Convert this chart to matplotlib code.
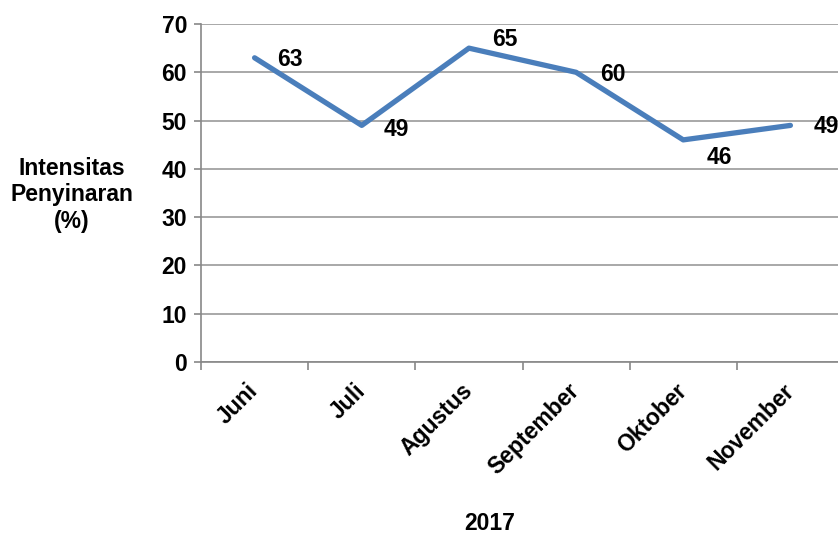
import numpy as np
import matplotlib.pyplot as plt

months = ['Juni', 'Juli', 'Agustus', 'September', 'Oktober', 'November']
intensitas = [63, 49, 65, 60, 46, 49]
label_offsets = [(16, -1), (16, -3), (17, 6.5), (17, -1.5), (17, -13), (17, -1)]

plt.rcParams['font.family'] = ['Liberation Sans', 'DejaVu Sans']
plt.rcParams['font.weight'] = 'bold'
FS = 16.5

fig = plt.figure(figsize=(8.38, 5.37), dpi=100)
ax = fig.add_axes([201 / 838, 1 - 362 / 537, 643 / 838, 338 / 537])

x = np.arange(len(months))
ax.plot(x, intensitas, color='#4A7EBB', lw=3.8, solid_capstyle='round', zorder=3)
for xi, v, (dx, dy) in zip(x, intensitas, label_offsets):
    ax.annotate(str(v), (xi, v), xytext=(dx, dy), textcoords='offset points',
                ha='left', va='center', fontsize=FS, fontweight='bold')

ax.set_xlim(-0.5, len(months) - 0.5)
ax.set_ylim(0, 70)
ax.set_yticks(range(0, 71, 10))
ax.set_xticks(x)
ax.set_xticklabels(months, rotation=45, ha='right', va='center',
                   rotation_mode='anchor', fontsize=FS, fontweight='bold')
ax.set_xticks(np.arange(-0.5, len(months)), minor=True)
ax.tick_params(axis='x', which='major', length=0, pad=18)
ax.tick_params(axis='x', which='minor', length=6, color='#888888', width=1.2)
ax.tick_params(axis='y', length=5, color='#888888', width=1.2, labelsize=FS, pad=5)
for lab in ax.get_yticklabels():
    lab.set_fontweight('bold')

ax.grid(axis='y', color='#999999', lw=1.2)
ax.set_axisbelow(True)
for s in ['top', 'right']:
    ax.spines[s].set_visible(False)
for s in ['left', 'bottom']:
    ax.spines[s].set_color('#888888')
    ax.spines[s].set_linewidth(1.2)

fig.text(72 / 838, 1 - 195 / 537, 'Intensitas\nPenyinaran\n(%)', ha='center', va='center',
         fontsize=FS, fontweight='bold', linespacing=1.2)
fig.text(490 / 838, 1 - 524 / 537, '2017', ha='center', va='center',
         fontsize=FS, fontweight='bold')

fig.savefig('out.png', dpi=100)
